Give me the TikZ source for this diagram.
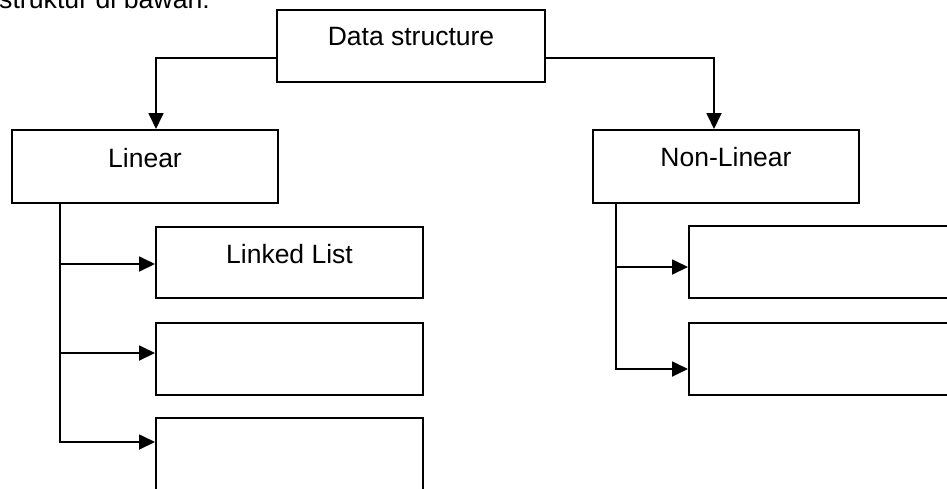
\documentclass[tikz,border=0pt]{standalone}
\usepackage{fontspec}
\setmainfont{Liberation Sans}
\usetikzlibrary{arrows.meta,positioning}
\tikzset{
  box/.style={draw, line width=2pt, rectangle, inner sep=0pt},
  lbl/.style={font=\fontsize{26.5}{30}\selectfont, inner sep=0pt, text height=19pt, text depth=0pt},
  arr/.style={line width=1.8pt, -{Triangle[length=16pt,width=15pt]}},
}
\begin{document}
\begin{tikzpicture}[x=1pt,y=-1pt]
\useasboundingbox (0,0) rectangle (947,488);
\clip (0,0) rectangle (947,488);
% partly cut-off caption line at top
\node[font=\fontsize{26.7}{30}\selectfont, inner sep=0pt, anchor=base west] (cap) at (-1,8) {struktur di bawah:};
% boxes
\node[box, minimum width=268pt, minimum height=72pt] (ds) at (411,46) {};
\node[lbl] (dst) at ([yshift=10pt]ds.center) {Data structure};
\node[box, minimum width=266pt, minimum height=73pt] (lin) at (145,166.5) {};
\node[lbl] (lint) at ([yshift=9pt]lin.center) {Linear};
\node[box, minimum width=266pt, minimum height=73pt] (nl) at (726,166.5) {};
\node[lbl] (nlt) at ([yshift=10pt]nl.center) {Non-Linear};
\node[box, minimum width=267pt, minimum height=71pt] (ll1) at (289.5,262.5) {};
\node[lbl] (ll1t) at ([yshift=9pt]ll1.center) {Linked List};
\node[box, minimum width=267pt, minimum height=72pt] (ll2) at (289.5,359) {};
\node[box, minimum width=267pt, minimum height=80pt] (ll3) at (289.5,458) {};
\node[box, minimum width=267pt, minimum height=72pt] (nl1) at (822.5,262) {};
\node[box, minimum width=267pt, minimum height=72pt] (nl2) at (822.5,359) {};
% connectors
\draw[arr] ([yshift=-12pt]ds.west) -| ([xshift=11pt]lin.north);
\draw[arr] ([yshift=-12pt]ds.east) -| ([xshift=-12pt]nl.north);
\coordinate (tl) at ([xshift=49pt]lin.south west);
\draw[arr] (tl) |- ([yshift=-38pt]ll1.north west);
\draw[arr] (tl) |- ([yshift=-31pt]ll2.north west);
\draw[arr] (tl) |- ([yshift=-25pt]ll3.north west);
\coordinate (tn) at ([xshift=24pt]nl.south west);
\draw[arr] (tn) |- ([yshift=-42pt]nl1.north west);
\draw[arr] (tn) |- ([yshift=-47pt]nl2.north west);
\end{tikzpicture}
\end{document}
